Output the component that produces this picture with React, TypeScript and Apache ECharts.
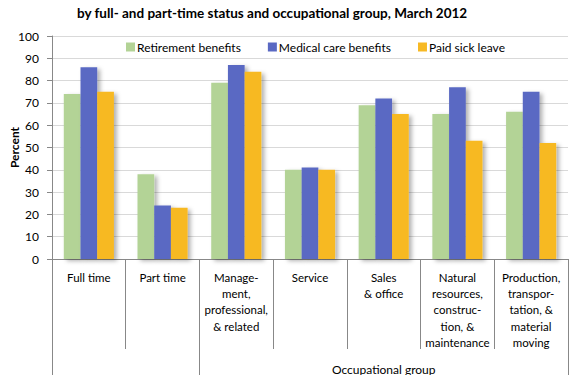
import React, { useEffect, useRef } from "react";
import * as echarts from "echarts";

const title = "by full- and part-time status and occupational group, March 2012";
const categories = [
  "Full time",
  "Part time",
  "Manage-\nment,\nprofessional,\n& related",
  "Service",
  "Sales\n& office",
  "Natural\nresources,\nconstruc-\ntion, &\nmaintenance",
  "Production,\ntranspor-\ntation, &\nmaterial\nmoving",
];
const groupLabel = "Occupational group";
const seriesNames = ["Retirement benefits", "Medical care benefits", "Paid sick leave"];
const retirement = [74, 38, 79, 40, 69, 65, 66];
const medical = [86, 24, 87, 41, 72, 77, 75];
const sickLeave = [75, 23, 84, 40, 65, 53, 52];
const colors = ["#B3D396", "#5A69C3", "#F7B924"];
const groupStarts = [0, 2];

export default function App() {
  const ref = useRef<HTMLDivElement>(null);
  useEffect(() => {
    if (!ref.current) return;
    const chart = echarts.init(ref.current, null, { renderer: "svg" });
    const font = "Lato, 'Open Sans', sans-serif";
    const shadow = {
      shadowColor: "rgba(0,0,0,0.3)",
      shadowBlur: 4,
      shadowOffsetX: 3,
      shadowOffsetY: 2,
    };
    const values = [retirement, medical, sickLeave];
    const hiddenLabels = { show: false };
    chart.setOption({
      animation: false,
      textStyle: { fontFamily: font },
      title: {
        text: title,
        left: 72,
        top: 1,
        textStyle: { fontFamily: font, fontSize: 13.5, fontWeight: "bold", color: "#000" },
      },
      legend: {
        left: 121,
        top: 36,
        itemWidth: 9,
        itemHeight: 9,
        itemGap: 27,
        icon: "rect",
        textStyle: { fontFamily: font, fontSize: 12, color: "#000", padding: [0, 0, 0, -3] },
        data: seriesNames,
      },
      grid: {
        left: 52,
        right: 12,
        top: 36,
        bottom: 116,
        containLabel: false,
        outerBoundsMode: "none",
      },
      xAxis: [
        {
          type: "category",
          data: categories,
          position: "bottom",
          axisLine: { show: true, lineStyle: { color: "#888", width: 1 } },
          axisTick: { show: true, interval: 0, length: 90, lineStyle: { color: "#888" } },
          axisLabel: {
            interval: 0,
            margin: 10,
            fontFamily: font,
            fontSize: 11.5,
            lineHeight: 16.3,
            color: "#000",
            align: "center",
            verticalAlign: "top",
          },
        },
        {
          // outer boundaries of the whole axis (single tick => both ends)
          type: "category",
          data: categories.map((_, i) => String(i)),
          position: "bottom",
          axisLine: { show: false },
          axisTick: {
            show: true,
            interval: (i: number) => i === 0,
            length: 120,
            lineStyle: { color: "#888" },
          },
          axisLabel: {
            interval: 0,
            margin: 104,
            fontFamily: font,
            fontSize: 12,
            color: "#000",
            formatter: (v: string) => (v === "4" ? groupLabel : ""),
          },
          splitLine: { show: false },
        },
        {
          // group boundaries
          type: "category",
          data: categories.map((_, i) => String(i)),
          position: "bottom",
          axisLine: { show: false },
          axisTick: {
            show: true,
            interval: (i: number) => groupStarts.indexOf(i) >= 0,
            length: 120,
            lineStyle: { color: "#888" },
          },
          axisLabel: hiddenLabels,
          splitLine: { show: false },
        },
      ],
      yAxis: {
        type: "value",
        min: 0,
        max: 100,
        interval: 10,
        name: "Percent",
        nameLocation: "middle",
        nameGap: 32,
        nameMoveOverlap: false,
        nameRotate: 90,
        nameTextStyle: { fontFamily: font, fontSize: 12, fontWeight: "bold", color: "#000" },
        axisLine: { show: true, lineStyle: { color: "#888" } },
        axisTick: { show: true, length: 5, lineStyle: { color: "#888" } },
        axisLabel: { fontFamily: font, fontSize: 12, color: "#000", margin: 13 },
        splitLine: { show: true, lineStyle: { color: "#D9D9D9", width: 1 } },
      },
      series: seriesNames.map((name, i) => ({
        name,
        type: "bar",
        data: values[i],
        xAxisIndex: 0,
        barGap: "0%",
        barCategoryGap: "32%",
        itemStyle: { color: colors[i], ...shadow },
      })),
    });
    return () => chart.dispose();
  }, []);
  return (
    <div
      ref={ref}
      style={{ position: "absolute", left: 0, top: 0, width: 580, height: 375 }}
    />
  );
}
